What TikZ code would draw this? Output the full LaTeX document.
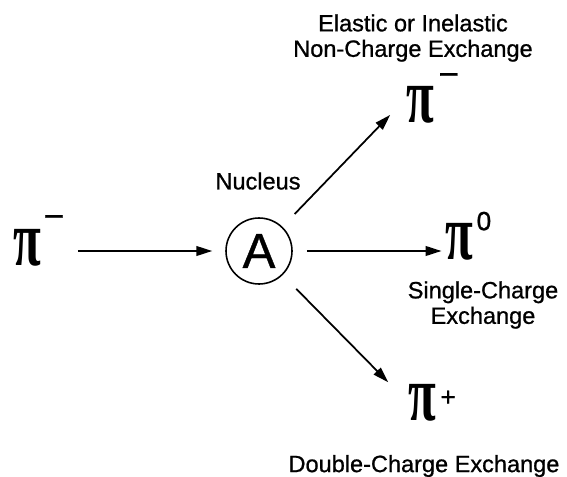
\documentclass[tikz,border=0pt]{standalone}
\usepackage{fontspec}
\setmainfont{Liberation Sans}
\newfontfamily\capfont{Liberation Sans}[FakeBold=0.8]
\newfontfamily\piface{Liberation Serif}
\usetikzlibrary{arrows.meta, positioning}

% pion symbol with its charge set apart, as on the plot
\newcommand{\pion}[3]{\scalebox{0.9}[1.4]{\piface\bfseries\fontsize{32}{32}\selectfont π}\kern#3\raisebox{#2}{\capfont\fontsize{15}{15}\selectfont #1}}

\begin{document}
\begin{tikzpicture}[
  x=0.02cm, y=-0.02cm,
  pion/.style={inner sep=0pt, anchor=base west},
  caption/.style={font=\capfont\fontsize{13.4}{14.5}\selectfont, align=center, inner sep=0pt},
  nucleus/.style={circle, draw, line width=0.9pt, minimum size=1.32cm, inner sep=0pt,
                  font=\capfont\fontsize{28}{28}\selectfont},
  arrow/.style={-{Triangle[length=9pt,width=5.5pt]}, line width=1pt},
]
  \useasboundingbox (0,0) rectangle (567,476);

  \node[nucleus] (nuc) at (259,251) {A};
  \node[caption] (nuclabel) at (258,181) {Nucleus};

  \node[pion] (pim)   at (13,265)  {\pion{\fontsize{20}{20}\selectfont −}{21pt}{1.5pt}};
  \node[pion] (pup)   at (406,123) {\pion{\fontsize{20}{20}\selectfont −}{21pt}{2.5pt}};
  \node[pion] (pzero) at (445,259) {\pion{0}{16.4pt}{2pt}};
  \node[pion] (pplus) at (408,420) {\pion{+}{8pt}{2.5pt}};

  \node[caption] (elastic) at (413,38)  {Elastic or Inelastic\\Non-Charge Exchange};
  \node[caption] (single)  at (483,305) {Single-Charge\\Exchange};
  \node[caption] (double)  at (424,466) {Double-Charge Exchange};

  \draw[arrow, shorten <=7.5pt, shorten >=7.4pt] (pim.east |- nuc) -- (nuc.west);
  \draw[arrow, shorten <=10pt, shorten >=13pt] (nuc) -- (pup.west);
  \draw[arrow, shorten <=8pt, shorten >=2pt] (nuc) -- (pzero.west |- nuc);
  \draw[arrow, shorten <=11pt, shorten >=16pt] (nuc) -- (pplus.west);
\end{tikzpicture}
\end{document}
